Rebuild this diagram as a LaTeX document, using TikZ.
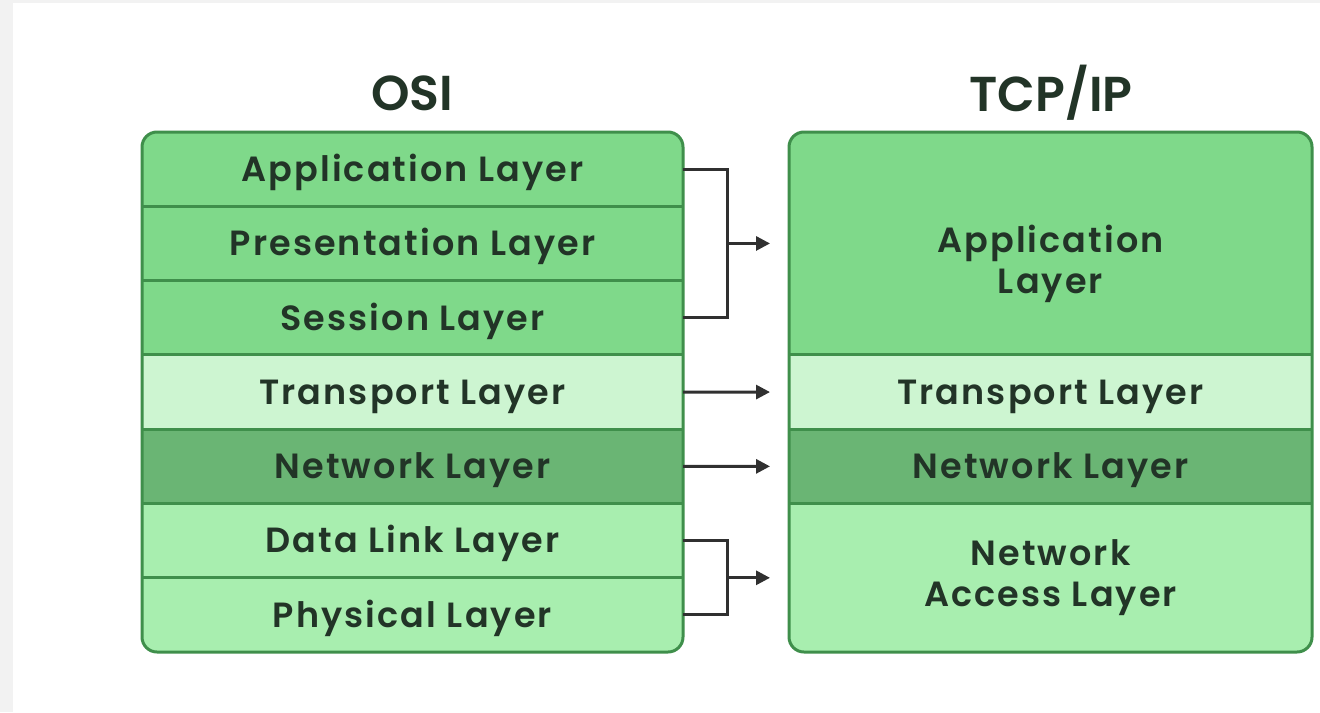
\documentclass[tikz,border=0pt]{standalone}
\usepackage{fontspec}
\IfFontExistsTF{Poppins SemiBold}
 {\setmainfont{Poppins}[BoldFont={Poppins SemiBold}, LetterSpace=6]
  \newfontfamily\titlefont{Poppins}[BoldFont={Poppins SemiBold}]}
 {\setmainfont{Poppins}[LetterSpace=6]
  \newfontfamily\titlefont{Poppins}}
\usetikzlibrary{arrows.meta}
\usetikzlibrary{positioning}

\definecolor{midgreen}{HTML}{7FD98A}
\definecolor{palegreen}{HTML}{CDF5D1}
\definecolor{darkgreen}{HTML}{6AB574}
\definecolor{softgreen}{HTML}{A8EEAF}
\definecolor{edgegreen}{HTML}{3F8F4B}
\definecolor{inkgreen}{HTML}{223427}
\definecolor{wire}{HTML}{303030}

\tikzset{
 layer/.style={rectangle, inner sep=0pt, outer sep=0pt, minimum height=37.15pt,
  text=inkgreen, font=\fontsize{17.5}{20.5}\selectfont\bfseries, align=center},
 oneline/.style={text height=16.75pt, text depth=4.5pt},
 osi/.style={layer, oneline, minimum width=270.5pt},
 tcp/.style={layer, minimum width=261.5pt},
 title/.style={text=inkgreen, font=\titlefont\fontsize{24.5}{28}\selectfont\bfseries},
 frame/.style={edgegreen, line width=1.5pt},
 link/.style={wire, line width=1.5pt, >={Triangle[length=7pt,width=7pt]}},
}

\begin{document}
\begin{tikzpicture}[x=0.5pt, y=-0.5pt]
\useasboundingbox (0,0) rectangle (1320,712);
\fill[white] (0,0) rectangle (1320,712);
\fill[gray!10] (0,0) rectangle (13,712);
\fill[gray!10] (0,0) rectangle (1320,3);

\node[title] (osi) at (412,93) {OSI};
\node[title] (tcpip) at (1051,93) {TCP/IP};

\begin{scope}
\clip[rounded corners=7.5pt] (142,132) rectangle (683,652);
\foreach \n/\c/\t [count=\i from 0] in {app/midgreen/Application Layer,
  pres/midgreen/Presentation Layer, sess/midgreen/Session Layer,
  trans/palegreen/Transport Layer, net/darkgreen/Network Layer,
  dlink/softgreen/Data Link Layer, phys/softgreen/Physical Layer} {
 \node[osi, fill=\c, anchor=north west] (\n) at (142,132+74.3*\i) {\t};
}
\end{scope}
\foreach \n in {app, pres, sess, trans, net, dlink} {
 \draw[frame] (\n.south west) -- (\n.south east);
}
\draw[frame, rounded corners=7.5pt] (142,132) rectangle (683,652);

\begin{scope}
\clip[rounded corners=7.5pt] (789,132) rectangle (1312,652);
\node[tcp, fill=midgreen, minimum height=111.45pt, anchor=north west] (tapp) at (789,132) {};
\node[tcp, fill=palegreen, oneline, below=0pt of tapp] (ttrans) {Transport Layer};
\node[tcp, fill=darkgreen, oneline, below=0pt of ttrans] (tnet) {Network Layer};
\node[tcp, fill=softgreen, minimum height=74.3pt, below=0pt of tnet] (tacc) {Network\\Access Layer};
\end{scope}
\node[layer] (tapptext) at ([yshift=-10pt]tapp.center) {Application\\Layer};
\foreach \n in {tapp, ttrans, tnet} {
 \draw[frame] (\n.south west) -- (\n.south east);
}
\draw[frame, rounded corners=7.5pt] (789,132) rectangle (1312,652);

\coordinate[right=22pt of pres.east] (j1);
\coordinate[right=22pt of dlink.south east] (j2);
\draw[link] (app.east) -| (j1) |- (sess.east);
\draw[link, ->, shorten >=9.5pt] (j1) -- (j1 -| tapp.west);
\draw[link, ->, shorten >=9.5pt] (trans.east) -- (ttrans.west);
\draw[link, ->, shorten >=9.5pt] (net.east) -- (tnet.west);
\draw[link] (dlink.east) -| (j2) |- (phys.east);
\draw[link, ->, shorten >=9.5pt] (j2) -- (j2 -| tacc.west);
\end{tikzpicture}
\end{document}
